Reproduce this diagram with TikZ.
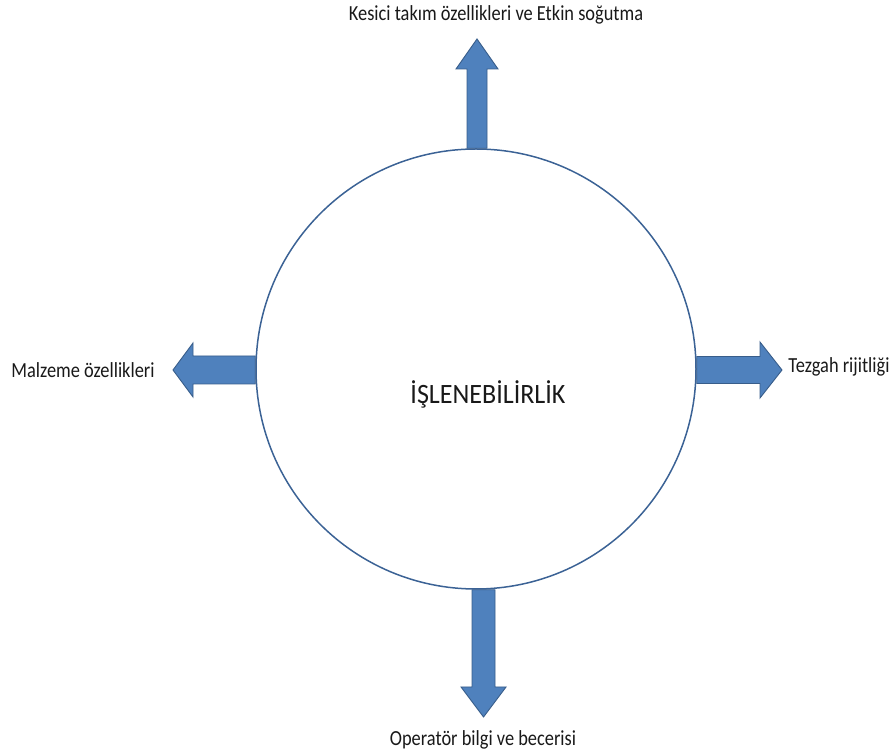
\documentclass[tikz,border=0pt]{standalone}
\usepackage{fontspec}
\setmainfont{Carlito}
\usepackage{tikz}
\usetikzlibrary{positioning}
\usetikzlibrary{calc}
\definecolor{arrowblue}{HTML}{4F81BD}
\definecolor{arrowedge}{HTML}{385D8A}
\definecolor{ringblue}{HTML}{3B6295}
\newcommand{\labelsize}{\fontsize{21.5}{26}\selectfont}
\newcommand{\titlesize}{\fontsize{28}{34}\selectfont}
% block arrow: start, tip, half shaft, half head, head length
\newcommand{\fatarrow}[5]{
    \coordinate (fa-base) at ($(#2)!#5!(#1)$);
    \draw[blockarrow] ($(#1)!#3!90:(#2)$) -- ($(fa-base)!#3!90:(#2)$)
        -- ($(fa-base)!#4!90:(#2)$) -- (#2)
        -- ($(fa-base)!#4!-90:(#2)$) -- ($(fa-base)!#3!-90:(#2)$)
        -- ($(#1)!#3!-90:(#2)$) -- cycle;
}

\begin{document}
\begin{tikzpicture}[x=1pt, y=1pt,
        blockarrow/.style={fill=arrowblue, draw=arrowedge, line width=0.9pt, line join=miter},
        factor/.style={font=\labelsize, text=black!90, inner sep=0pt, xscale=0.855, transform shape}]

        \useasboundingbox (0,0) rectangle (895,755);

        % Circle
        \node[circle, draw=ringblue, line width=1.5pt, minimum size=440pt, inner sep=0pt]
            (circ) at (476,386) {};
        \node[font=\titlesize, text=black!90, inner sep=0pt, xscale=0.93, transform shape]
            (title) at (488,361) {İŞLENEBİLİRLİK};

        % Arrow tips
        \coordinate (tipN) at (477,716);
        \coordinate (tipW) at (173,385);
        \coordinate (tipE) at (782,385);
        \coordinate (tipS) at (483.5,38);

        % Arrows
        \fatarrow{circ.north -| tipN}{tipN}{10pt}{21pt}{30pt}
        \fatarrow{circ.west |- tipW}{tipW}{14pt}{27pt}{20pt}
        \fatarrow{circ.east |- tipE}{tipE}{13.5pt}{28pt}{22pt}
        \fatarrow{circ.south -| tipS}{tipS}{11.5pt}{22.5pt}{30pt}

        % Labels
        \node[factor] (kesici) at (496,740) {Kesici takım özellikleri ve Etkin soğutma};
        \node[factor] (malzeme) at (83,385) {Malzeme özellikleri};
        \node[factor] (tezgah) at (839,388) {Tezgah rijitliği};
        \node[factor] (operator) at (483,15) {Operatör bilgi ve becerisi};

\end{tikzpicture}
\end{document}
